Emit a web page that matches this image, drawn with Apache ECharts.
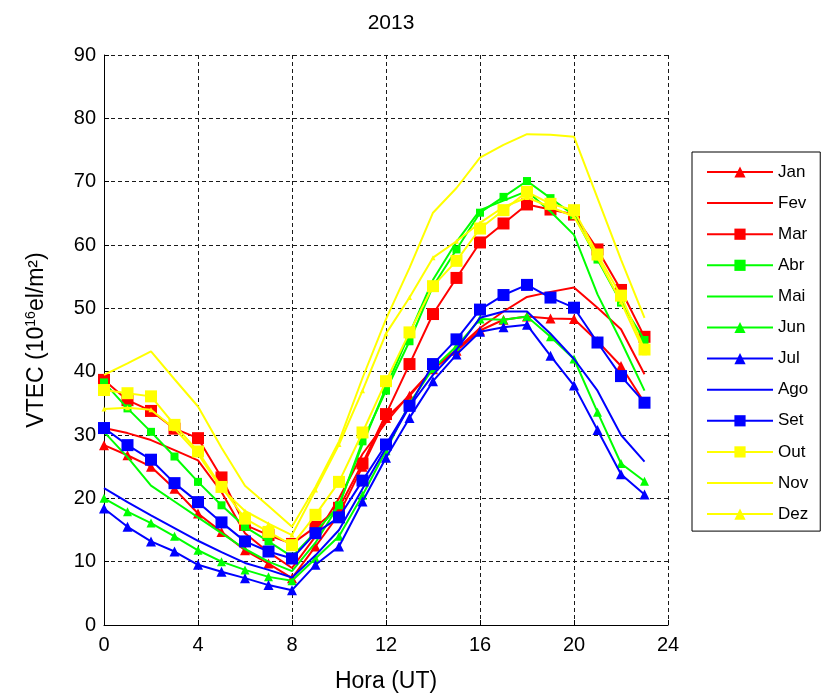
<!DOCTYPE html>
<html>
<head>
<meta charset="utf-8">
<script src="https://cdn.jsdelivr.net/npm/echarts@6/dist/echarts.min.js"></script>
<style>
  html, body { margin: 0; padding: 0; background: #ffffff; }
  #chart { width: 827px; height: 700px; }
</style>
</head>
<body>
<div id="chart"></div>
<script>
// Hourly mean VTEC per month, 2013 (units of 10^16 el/m²)
const hours = [0,1,2,3,4,5,6,7,8,9,10,11,12,13,14,15,16,17,18,19,20,21,22,23];
const months = ['Jan','Fev','Mar','Abr','Mai','Jun','Jul','Ago','Set','Out','Nov','Dez'];
const xTicks = [0, 4, 8, 12, 16, 20, 24];
const yTicks = [0, 10, 20, 30, 40, 50, 60, 70, 80, 90];

const jan = [28.4,26.8,25.0,21.5,17.6,14.7,11.8,9.7,7.4,12.4,17.5,25.0,32.7,36.2,40.4,43.3,46.5,48.2,48.7,48.4,48.3,44.8,40.9,35.1];
const fev = [31.1,30.3,29.2,27.6,26.0,21.0,14.5,11.5,9.0,14.0,20.0,27.0,32.0,36.4,40.4,43.5,46.9,49.5,51.8,52.6,53.3,50.1,46.7,39.6];
const mar = [38.7,35.5,33.8,31.0,29.5,23.3,15.8,14.2,12.8,15.5,18.5,25.5,33.3,41.2,49.1,54.8,60.4,63.4,66.4,65.6,64.8,59.3,52.9,45.5];
const abr = [38.3,34.2,30.5,26.6,22.6,18.9,15.5,13.2,10.8,14.7,18.9,29.0,37.0,44.8,53.5,59.3,65.1,67.6,70.1,67.4,64.7,57.7,50.9,45.0];
const mai = [30.5,26.5,22.0,19.5,17.0,14.5,12.0,10.0,8.5,13.0,19.0,28.5,37.5,46.0,54.5,60.5,65.5,67.0,68.5,65.3,61.6,52.2,44.8,37.0];
const jun = [20.0,17.9,16.1,14.0,11.8,10.0,8.7,7.6,7.0,10.5,14.0,20.5,27.5,35.0,40.5,44.0,48.3,48.2,48.7,45.5,42.0,33.6,25.5,22.7];
const jul = [18.4,15.5,13.2,11.6,9.5,8.4,7.4,6.3,5.5,9.5,12.4,19.5,26.4,32.7,38.5,42.7,46.3,47.0,47.4,42.5,37.8,30.8,23.8,20.6];
const ago = [21.6,19.4,17.3,15.3,13.3,11.5,9.8,8.7,7.5,11.0,15.0,21.5,28.0,34.5,39.5,43.5,48.5,49.5,49.5,46.0,42.0,37.0,30.0,25.8];
const set = [31.1,28.4,26.1,22.4,19.4,16.2,13.2,11.6,10.5,14.5,17.0,22.8,28.5,34.6,41.2,45.1,49.8,52.1,53.7,51.7,50.1,44.6,39.3,35.1];
const out = [37.1,36.6,36.1,31.6,27.4,21.8,16.8,14.7,12.6,17.4,22.6,30.4,38.5,46.2,53.5,57.5,62.6,65.5,68.4,66.5,65.5,58.5,52.0,43.5];
const nov = [39.5,41.3,43.2,38.8,34.5,28.0,22.0,18.8,15.5,21.8,29.0,39.0,48.3,56.4,65.1,69.0,73.8,75.8,77.5,77.4,77.1,67.4,57.7,48.5];
const dez = [34.1,34.3,34.0,31.0,27.0,21.5,18.0,16.0,14.2,21.3,28.5,37.0,46.0,51.7,58.0,60.6,63.5,66.0,67.5,66.0,64.5,58.0,51.0,43.0];

const values = [jan, fev, mar, abr, mai, jun, jul, ago, set, out, nov, dez];

// colour, marker and marker size for each month
const RED = '#ff0000', GREEN = '#00ff00', BLUE = '#0000ff', YELLOW = '#ffff00';
const looks = [
  [RED, 'triangle', 10],
  [RED, 'none', 0],
  [RED, 'rect', 12],
  [GREEN, 'rect', 8],
  [GREEN, 'none', 0],
  [GREEN, 'triangle', 9],
  [BLUE, 'triangle', 10],
  [BLUE, 'none', 0],
  [BLUE, 'rect', 12],
  [YELLOW, 'rect', 12],
  [YELLOW, 'none', 0],
  [YELLOW, 'triangle', 5]
];

const FONT = 'Liberation Sans, Arial, sans-serif';

const series = months.map((name, i) => {
  const [color, symbol, size] = looks[i];
  return {
    name: name,
    type: 'line',
    data: hours.map((h, k) => [h, values[i][k]]),
    color: color,
    symbol: symbol,
    symbolSize: size,
    showSymbol: symbol !== 'none',
    lineStyle: { color: color, width: 2 },
    itemStyle: { color: color, borderWidth: 0 },
    emphasis: { disabled: true },
    z: 2 + i
  };
});

// plain lines get a legend entry without a marker
const legendData = months.map((name, i) => {
  const [color, symbol] = looks[i];
  if (symbol === 'none') {
    return { name: name, itemStyle: { color: 'rgba(0,0,0,0)', opacity: 0, borderWidth: 0 } };
  }
  return { name: name };
});

const dashed = { show: true, lineStyle: { color: '#1a1a1a', width: 1, type: [4, 3] } };

const chart = echarts.init(document.getElementById('chart'), null, { renderer: 'canvas' });
chart.setOption({
  animation: false,
  backgroundColor: '#ffffff',
  title: {
    text: '2013',
    left: 386,
    textAlign: 'center',
    top: 8,
    textStyle: { fontFamily: FONT, fontSize: 21, fontWeight: 'normal', color: '#000' }
  },
  grid: { left: 104, top: 55, width: 564, height: 570, containLabel: false },
  legend: {
    orient: 'vertical',
    left: 692,
    top: 152,
    padding: [10, 12, 7, 14],
    itemWidth: 66,
    itemHeight: 14,
    itemGap: 11.1,
    borderColor: '#000',
    borderWidth: 1,
    data: legendData,
    textStyle: { fontFamily: FONT, fontSize: 17, color: '#000', lineHeight: 20 }
  },
  xAxis: {
    type: 'value',
    min: xTicks[0],
    max: xTicks[xTicks.length - 1],
    interval: 4,
    name: 'Hora (UT)',
    nameLocation: 'middle',
    nameGap: 45,
    nameTextStyle: { fontFamily: FONT, fontSize: 23, color: '#000' },
    axisLine: { show: true, onZero: false, lineStyle: { color: '#000', width: 1 } },
    axisTick: { show: true, inside: true, length: 5, lineStyle: { color: '#000' } },
    axisLabel: { fontFamily: FONT, fontSize: 20, color: '#000', margin: 10 },
    splitLine: dashed
  },
  yAxis: {
    type: 'value',
    min: yTicks[0],
    max: yTicks[yTicks.length - 1],
    interval: 10,
    name: '{a|VTEC (10}{s|16}{a|el/m²)}',
    nameLocation: 'middle',
    nameGap: 54,
    nameTextStyle: {
      fontFamily: FONT, color: '#000',
      rich: {
        a: { fontFamily: FONT, fontSize: 23, color: '#000' },
        s: { fontFamily: FONT, fontSize: 14, color: '#000', padding: [0, 0, 12, 0] }
      }
    },
    axisLine: { show: true, onZero: false, lineStyle: { color: '#000', width: 1 } },
    axisTick: { show: true, inside: true, length: 5, lineStyle: { color: '#000' } },
    axisLabel: { fontFamily: FONT, fontSize: 20, color: '#000', margin: 8 },
    splitLine: dashed
  },
  series: series
});
</script>
</body>
</html>
